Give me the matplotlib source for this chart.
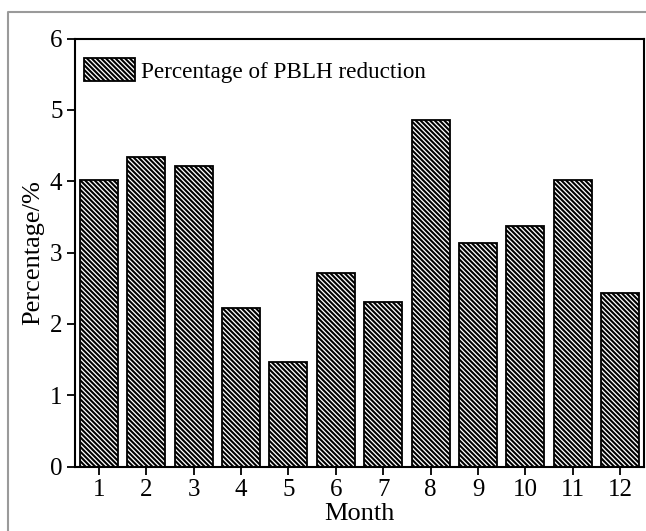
import matplotlib
matplotlib.use('Agg')
from matplotlib import pyplot as plt
from matplotlib.lines import Line2D
import numpy as np

months = [1, 2, 3, 4, 5, 6, 7, 8, 9, 10, 11, 12]
reduction = [4.02, 4.34, 4.21, 2.23, 1.47, 2.71, 2.31, 4.86, 3.13, 3.37, 4.02, 2.43]
legend_label = 'Percentage of PBLH reduction'

plt.rcParams['font.family'] = ['Liberation Serif', 'DejaVu Serif']
plt.rcParams['hatch.linewidth'] = 1.5

fig = plt.figure(figsize=(6.46, 5.31), dpi=100)
ax = fig.add_axes([75 / 646, 1 - 466.7 / 531, (644 - 75) / 646, (466.7 - 38.5) / 531])

ax.bar(months, reduction, width=0.8, color='white', edgecolor='black',
       linewidth=1.3, hatch='\\' * 7, label=legend_label)

ax.set_xlim(0.5, 12.5)
ax.set_ylim(0, 6)
ax.set_xticks(months)
ax.set_yticks(range(0, 7))
ax.tick_params(direction='out', length=6, width=1.3, labelsize=18, pad=3,
               top=False, right=False)

for s in ax.spines.values():
    s.set_linewidth(1.5)

ax.set_xlabel('Month', fontsize=19, labelpad=1)
ax.set_ylabel('Percentage/%', fontsize=19, labelpad=4)

ax.legend(loc='upper left', frameon=False, fontsize=16.7, handlelength=2.2,
          handleheight=1.1, handletextpad=0.25, borderaxespad=0.0,
          bbox_to_anchor=(0.0, 0.975))

# gray frame around the picture (left and top visible)
x0 = 8 / 646
y0 = 1 - 12 / 531
fig.add_artist(Line2D([x0, x0, 1.0], [0.0, y0, y0], color='#9a9a9a', linewidth=1.5,
                      transform=fig.transFigure))

plt.savefig('out.png', dpi=100)
